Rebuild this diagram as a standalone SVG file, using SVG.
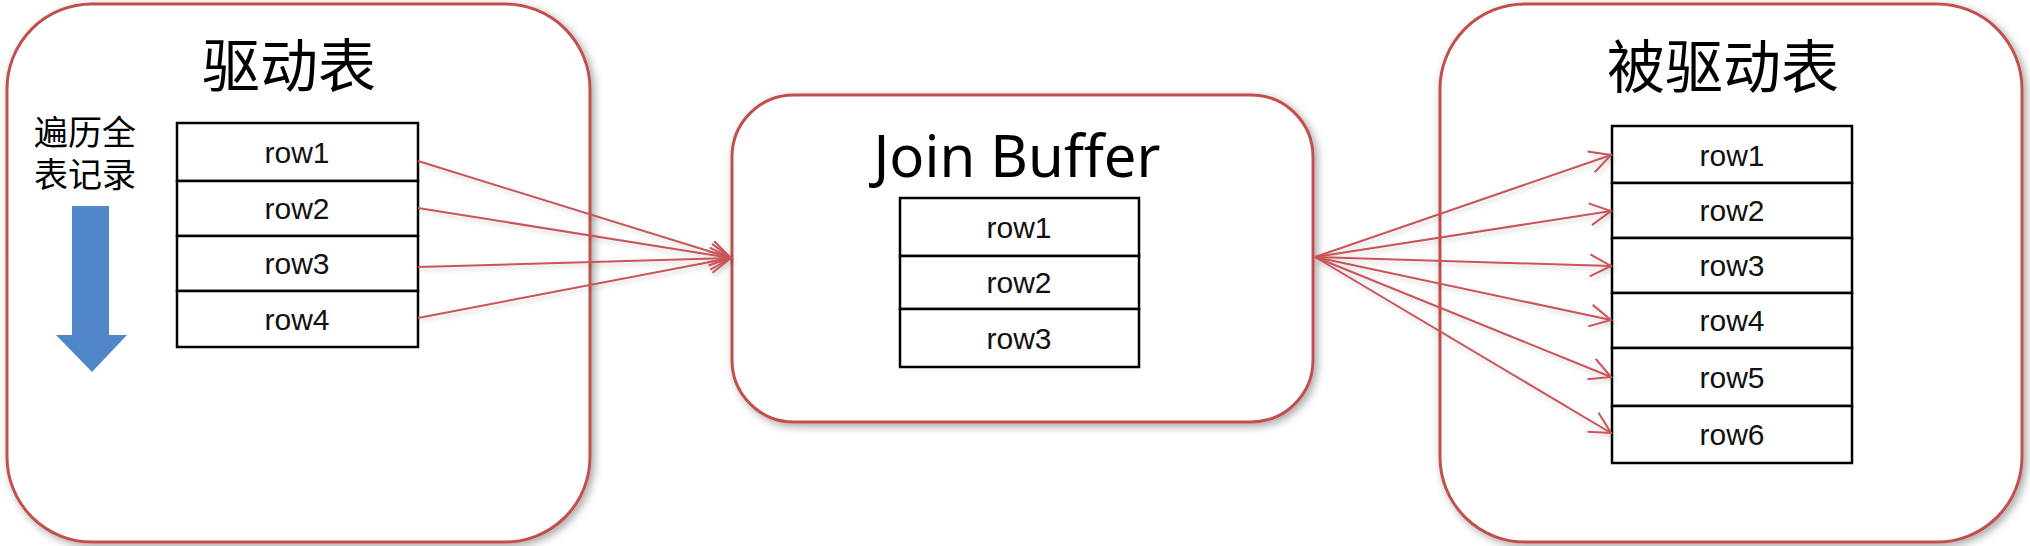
<svg xmlns="http://www.w3.org/2000/svg" width="2030" height="546" viewBox="0 0 2030 546">
<defs>
<style>
.box{fill:#ffffff;stroke:#c0504d;stroke-width:3;filter:url(#sh)}
.cell{fill:#ffffff;stroke:#000000;stroke-width:2.5}
.row{font-family:"Liberation Sans",Arial,sans-serif;font-size:30px;fill:#111111;text-anchor:middle}
.title{font-family:"Noto Sans CJK SC","Noto Sans",sans-serif;font-size:58px;fill:#000000;text-anchor:middle}
.note{font-family:"Noto Sans CJK SC",sans-serif;font-size:34px;fill:#000000;text-anchor:middle}
.conn{stroke:#c9555a;stroke-width:2;fill:none;marker-end:url(#ah)}
</style>
<filter id="sh" x="-10%" y="-10%" width="125%" height="125%">
<feDropShadow dx="3" dy="3" stdDeviation="4" flood-color="#000000" flood-opacity="0.35"/>
</filter>
<filter id="lsh" x="-5%" y="-20%" width="110%" height="140%">
<feDropShadow dx="2" dy="3" stdDeviation="2.5" flood-color="#000000" flood-opacity="0.18"/>
</filter>
<marker id="ah" viewBox="0 0 24 24" markerWidth="24" markerHeight="24" refX="22" refY="12" orient="auto" markerUnits="userSpaceOnUse">
<path d="M1,1 L22,12 L1,23" fill="none" stroke="#c9555a" stroke-width="2"/>
</marker>
</defs>

<g id="driving-table">
<rect class="box" x="7" y="4" width="583" height="538" rx="85" ry="85"/>
<text class="title" x="289" y="87">驱动表</text>
<text class="note" x="85" y="145"><tspan x="85">遍历全</tspan><tspan x="85" dy="42">表记录</tspan></text>
<path d="M72,206 L109,206 L109,335 L127,335 L92,372 L56,335 L72,335 Z" fill="#5187c8"/>
<rect class="cell" x="177" y="123" width="241" height="58"/>
<rect class="cell" x="177" y="181" width="241" height="55"/>
<rect class="cell" x="177" y="236" width="241" height="55"/>
<rect class="cell" x="177" y="291" width="241" height="56"/>
<text class="row" x="297" y="163">row1</text>
<text class="row" x="297" y="219">row2</text>
<text class="row" x="297" y="274">row3</text>
<text class="row" x="297" y="330">row4</text>
</g>

<g id="join-buffer">
<rect class="box" x="732" y="95" width="581" height="327" rx="62" ry="62"/>
<text class="title" x="1017" y="177" style="font-family:'Noto Sans',sans-serif">Join Buffer</text>
<rect class="cell" x="900" y="198" width="239" height="58"/>
<rect class="cell" x="900" y="256" width="239" height="53"/>
<rect class="cell" x="900" y="309" width="239" height="58"/>
<text class="row" x="1019" y="238">row1</text>
<text class="row" x="1019" y="293">row2</text>
<text class="row" x="1019" y="349">row3</text>
</g>

<g id="driven-table">
<rect class="box" x="1440" y="4" width="582" height="538" rx="85" ry="85"/>
<text class="title" x="1723" y="88">被驱动表</text>
<rect class="cell" x="1612" y="126" width="240" height="57"/>
<rect class="cell" x="1612" y="183" width="240" height="55"/>
<rect class="cell" x="1612" y="238" width="240" height="55"/>
<rect class="cell" x="1612" y="293" width="240" height="55"/>
<rect class="cell" x="1612" y="348" width="240" height="58"/>
<rect class="cell" x="1612" y="406" width="240" height="57"/>
<text class="row" x="1732" y="166">row1</text>
<text class="row" x="1732" y="221">row2</text>
<text class="row" x="1732" y="276">row3</text>
<text class="row" x="1732" y="331">row4</text>
<text class="row" x="1732" y="388">row5</text>
<text class="row" x="1732" y="445">row6</text>
</g>

<g id="connectors" filter="url(#lsh)">
<line class="conn" x1="418" y1="161" x2="731" y2="258"/>
<line class="conn" x1="418" y1="208" x2="731" y2="258"/>
<line class="conn" x1="418" y1="267" x2="731" y2="258"/>
<line class="conn" x1="418" y1="318" x2="731" y2="258"/>
<line class="conn" x1="1315" y1="257" x2="1611" y2="155"/>
<line class="conn" x1="1315" y1="257" x2="1611" y2="211"/>
<line class="conn" x1="1315" y1="257" x2="1611" y2="266"/>
<line class="conn" x1="1315" y1="257" x2="1611" y2="320"/>
<line class="conn" x1="1315" y1="257" x2="1611" y2="377"/>
<line class="conn" x1="1315" y1="257" x2="1611" y2="433"/>
</g>
</svg>
